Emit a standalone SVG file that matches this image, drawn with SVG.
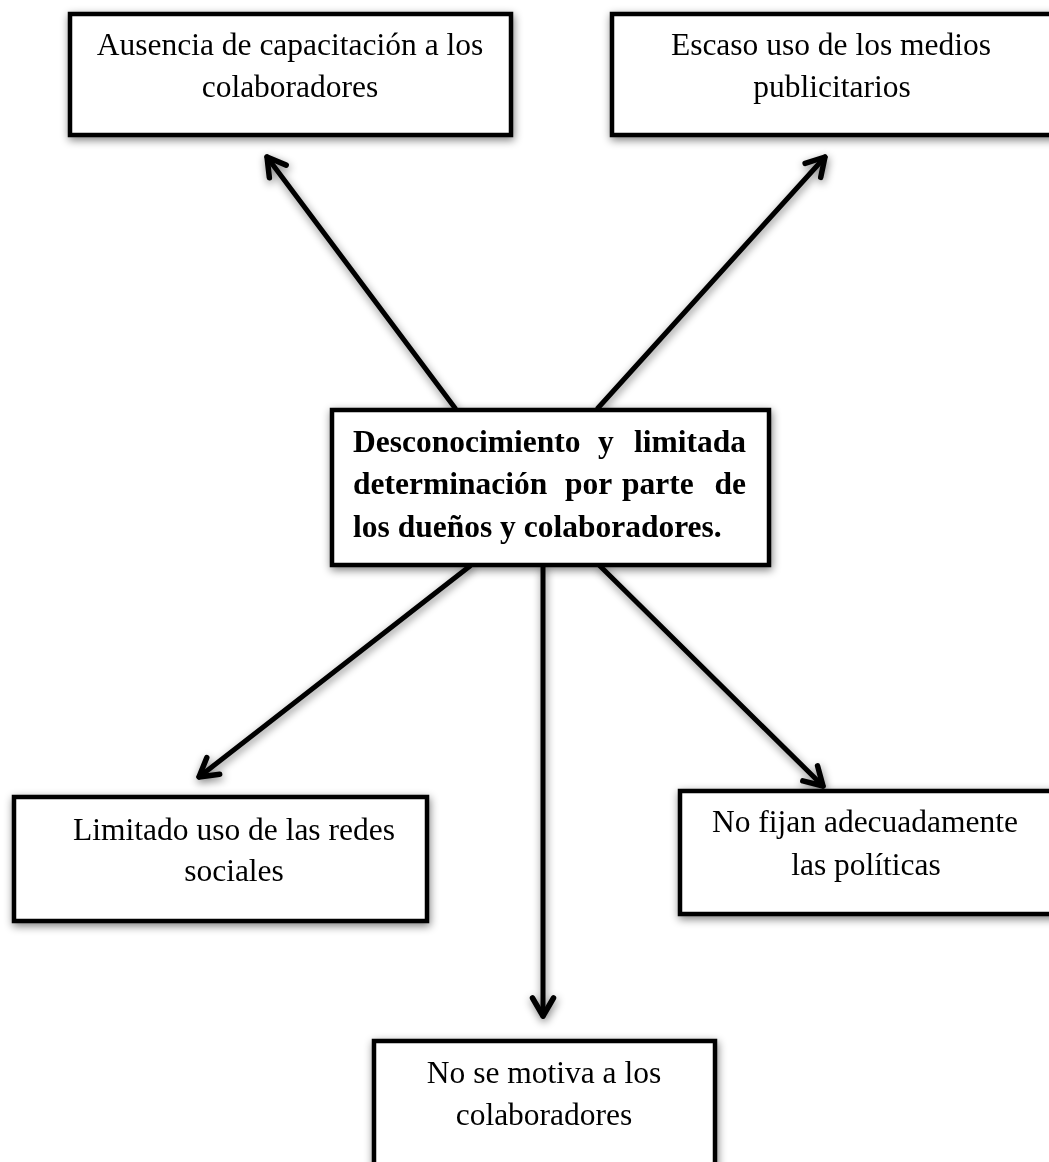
<svg xmlns="http://www.w3.org/2000/svg" width="1049" height="1162" viewBox="0 0 1049 1162">
<defs>
<filter id="sh" x="-10%" y="-20%" width="120%" height="140%">
<feGaussianBlur in="SourceAlpha" stdDeviation="4"/>
<feOffset dx="1" dy="3" result="b"/>
<feComponentTransfer><feFuncA type="linear" slope="0.5"/></feComponentTransfer>
<feMerge><feMergeNode/><feMergeNode in="SourceGraphic"/></feMerge>
</filter>
<marker id="ah" viewBox="0 0 28 28" refX="23" refY="14" markerWidth="28" markerHeight="28" markerUnits="userSpaceOnUse" orient="auto">
<path d="M5,3.5 L23,14 L5,24.5" fill="none" stroke="#000" stroke-width="5.5" stroke-linecap="round" stroke-linejoin="round"/>
</marker>
</defs>
<style>
.box{fill:#fff;stroke:#000;stroke-width:4.5}
.t{font-family:"Liberation Serif","Times New Roman",serif;font-size:31.5px;fill:#000;text-anchor:middle}
.b{font-family:"Liberation Serif","Times New Roman",serif;font-size:31.5px;font-weight:bold;fill:#000}
.c{fill:none;stroke:#000;stroke-width:5;stroke-linecap:round}
</style>
<rect width="1049" height="1162" fill="#fff"/>
<g id="connectors" filter="url(#sh)">
<line class="c" x1="455" y1="408" x2="267" y2="157" marker-end="url(#ah)"/>
<line class="c" x1="598" y1="408" x2="825" y2="157" marker-end="url(#ah)"/>
<line class="c" x1="470" y1="566" x2="199" y2="777" marker-end="url(#ah)"/>
<line class="c" x1="543" y1="566" x2="543" y2="1016" marker-end="url(#ah)"/>
<line class="c" x1="600" y1="566" x2="823" y2="786" marker-end="url(#ah)"/>
</g>
<g id="n1" filter="url(#sh)">
<rect class="box" x="70" y="14" width="441" height="121"/>
<text class="t" x="290" y="55">Ausencia de capacitación a los</text>
<text class="t" x="290" y="97">colaboradores</text>
</g>
<g id="n2" filter="url(#sh)">
<rect class="box" x="612" y="14" width="450" height="121"/>
<text class="t" x="831" y="55">Escaso uso de los medios</text>
<text class="t" x="832" y="97">publicitarios</text>
</g>
<g id="center" filter="url(#sh)">
<rect class="box" x="332" y="410" width="437" height="155"/>
<text class="b" y="452"><tspan x="353">Desconocimiento</tspan><tspan x="598">y</tspan><tspan x="746" text-anchor="end">limitada</tspan></text>
<text class="b" y="494"><tspan x="353">determinación</tspan><tspan x="565">por</tspan><tspan x="622">parte</tspan><tspan x="746" text-anchor="end">de</tspan></text>
<text class="b" x="353" y="537">los dueños y colaboradores.</text>
</g>
<g id="n3" filter="url(#sh)">
<rect class="box" x="14" y="797" width="413" height="124"/>
<text class="t" x="234" y="840">Limitado uso de las redes</text>
<text class="t" x="234" y="881">sociales</text>
</g>
<g id="n4" filter="url(#sh)">
<rect class="box" x="680" y="791" width="380" height="123"/>
<text class="t" x="865" y="832">No fijan adecuadamente</text>
<text class="t" x="866" y="875">las políticas</text>
</g>
<g id="n5" filter="url(#sh)">
<rect class="box" x="374" y="1041" width="341" height="140"/>
<text class="t" x="544" y="1083">No se motiva a los</text>
<text class="t" x="544" y="1125">colaboradores</text>
</g>
</svg>
